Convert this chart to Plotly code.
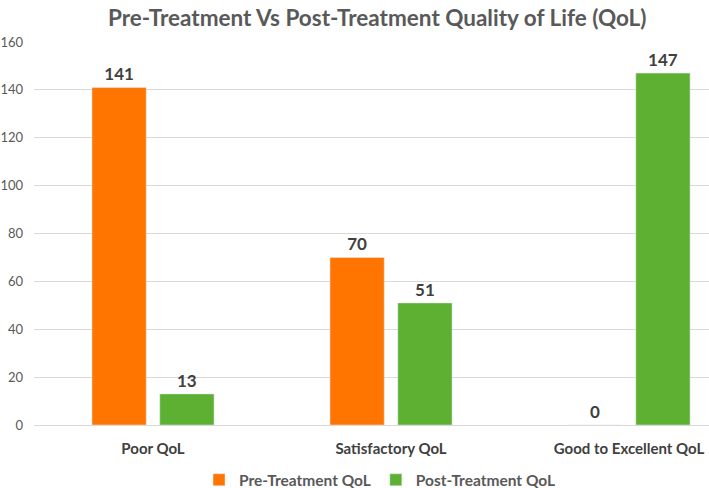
import plotly.graph_objects as go

categories = ["Poor QoL", "Satisfactory QoL", "Good to Excellent QoL"]
pre_values = [141, 70, 0]
post_values = [13, 51, 147]
y_ticks = [0, 20, 40, 60, 80, 100, 120, 140, 160]

FONT = "Lato"
fig = go.Figure()
fig.add_trace(go.Bar(
    x=categories, y=pre_values, name="Pre-Treatment QoL",
    marker_color="#FF7500", text=pre_values, textposition="outside",
    textfont=dict(family=FONT, size=17, color="#404040", weight="bold"),
    cliponaxis=False,
))
fig.add_trace(go.Bar(
    x=categories, y=post_values, name="Post-Treatment QoL",
    marker_color="#5DB031", text=post_values, textposition="outside",
    textfont=dict(family=FONT, size=17, color="#404040", weight="bold"),
    cliponaxis=False,
))
fig.update_layout(
    width=709, height=488,
    margin=dict(l=34, r=0, t=42, b=63, autoexpand=False),
    paper_bgcolor="white", plot_bgcolor="white",
    barmode="group", bargap=0.43, bargroupgap=0.2,
    title=dict(text="<b>Pre-Treatment Vs Post-Treatment Quality of Life (QoL)</b>",
               x=0.532, xanchor="center", y=0.962, yanchor="middle",
               font=dict(family=FONT, size=22.5, color="#595959")),
    font=dict(family=FONT, color="#595959"),
    legend=dict(orientation="h", x=0.536, xanchor="center", xref="container",
                y=0.016, yanchor="middle", yref="container",
                font=dict(family=FONT, size=15.5, color="#595959", weight="bold"),
                itemwidth=30, traceorder="normal"),
    showlegend=True,
)
fig.update_yaxes(range=[0, 160], tickvals=y_ticks, showgrid=True, gridcolor="#D9D9D9",
                 gridwidth=1, zeroline=False, showline=False, ticklabelstandoff=10,
                 tickfont=dict(family=FONT, size=13, color="#595959"), ticks="")
fig.update_xaxes(range=[-0.5, 2.336], showline=True, linecolor="#D9D9D9", ticks="",
                 ticklabelstandoff=10,
                 tickfont=dict(family=FONT, size=15, color="#404040", weight="bold"))
fig.write_html("out.html")
